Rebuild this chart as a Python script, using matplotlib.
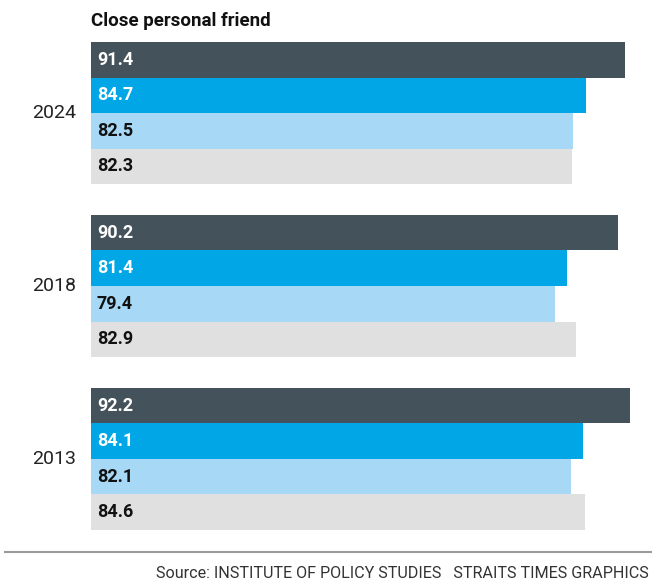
import matplotlib
matplotlib.use("Agg")
import matplotlib.pyplot as plt

# Data
years = ["2024", "2018", "2013"]
series_names = ["Series 1", "Series 2", "Series 3", "Series 4"]
values = {
    "2024": [91.4, 84.7, 82.5, 82.3],
    "2018": [90.2, 81.4, 79.4, 82.9],
    "2013": [92.2, 84.1, 82.1, 84.6],
}
title = "Close personal friend"
source = "Source: INSTITUTE OF POLICY STUDIES   STRAITS TIMES GRAPHICS"

bar_colors = ["#44525b", "#00a6e6", "#a7d8f5", "#e0e0e0"]
label_colors = ["white", "white", "#111111", "#111111"]

W, H = 652, 583
fig = plt.figure(figsize=(W / 100, H / 100), dpi=100)

left_px, right_px = 91, 652
top_px, bot_px = 42, 530
ax = fig.add_axes([left_px / W, 1 - bot_px / H, (right_px - left_px) / W, (bot_px - top_px) / H])

px_per_unit = 5.845
ax.set_xlim(0, (right_px - left_px) / px_per_unit)

bar_h = 1.0
group_pitch = 4.86
for gi, yr in enumerate(years):
    base = gi * group_pitch
    for si, v in enumerate(values[yr]):
        yc = base + si + 0.5
        ax.barh(yc, v, height=bar_h, color=bar_colors[si], edgecolor="none")
        ax.text(1.0, yc, f"{v:.1f}", va="center", ha="left", fontsize=13,
                fontweight="bold", color=label_colors[si], family="Roboto")
    ax.text(-2.6, base + 2.0, yr, ha="right", va="center", fontsize=14,
            color="#222222", family="Roboto", clip_on=False)

ax.set_ylim(2 * group_pitch + 4, 0)
ax.axis("off")

fig.text(left_px / W, 1 - 21 / H, title, ha="left", va="center", fontsize=13.5,
         fontweight="bold", color="#111111", family="Roboto")

fig.add_artist(plt.Line2D([5 / W, 1.0], [1 - 551.5 / H, 1 - 551.5 / H],
                          color="#9a9a9a", linewidth=1.5, transform=fig.transFigure))
fig.text(649 / W, 1 - 573 / H, source, ha="right", va="center", fontsize=11.6,
         color="#333333", family="Roboto")

fig.savefig("out.png", dpi=100)
